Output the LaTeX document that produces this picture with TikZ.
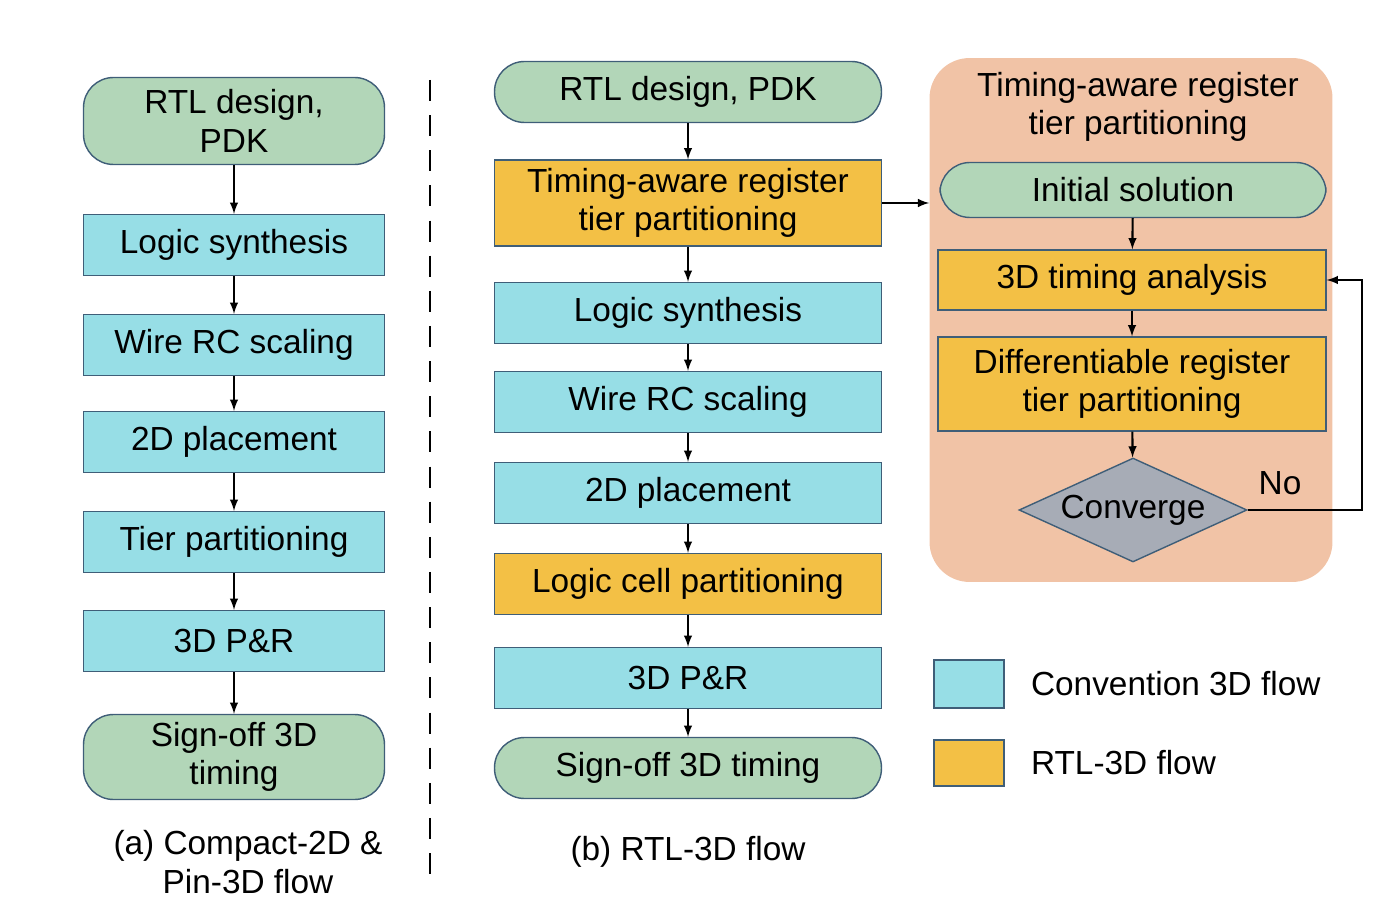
\documentclass[tikz,border=0pt]{standalone}
\usepackage{fontspec}
\setmainfont{Liberation Sans}
\usetikzlibrary{shapes.geometric, arrows, positioning, fit, backgrounds}
\definecolor{MyGreen}{HTML}{B2D6B8}
\definecolor{MyCyan}{HTML}{97DEE6}
\definecolor{MyOrange}{HTML}{F3C045}
\definecolor{MyPeach}{HTML}{F1C3A6}
\definecolor{MyGray}{HTML}{A7ACB6}
\definecolor{MyBorder}{HTML}{3F5E78}

\begin{document}
\begin{tikzpicture}[x=0.02cm,y=-0.02cm,
			every node/.style={font=\fontsize{19}{22}\selectfont, align=center, inner sep=0pt},
			stepbox/.style={draw=MyBorder,thick,rectangle,fill=MyCyan,minimum height=1.22cm},
			newbox/.style={stepbox,fill=MyOrange},
			endbox/.style={stepbox,fill=MyGreen,rounded corners=0.6cm},
			arr/.style={-latex,very thick}
		]
			\useasboundingbox (0,0) rectangle (1400,915);
			% (a) left flow
			\node (aRtl) [endbox,minimum width=6.02cm,minimum height=1.74cm] at (234,121) {RTL design,\\PDK};
			\node (aSyn) [stepbox,minimum width=6.02cm] at (234,245) {Logic synthesis};
			\node (aWire) [stepbox,minimum width=6.02cm] at (234,345) {Wire RC scaling};
			\node (aPl) [stepbox,minimum width=6.02cm] at (234,442) {2D placement};
			\node (aTier) [stepbox,minimum width=6.02cm] at (234,542) {Tier partitioning};
			\node (aPR) [stepbox,minimum width=6.02cm] at (234,641) {3D P\&R};
			\node (aSign) [endbox,minimum width=6.02cm,minimum height=1.7cm] at (234,757) {Sign-off 3D\\timing};
			\node (aCap) at (248,862) {(a) Compact-2D \&\\Pin-3D flow};
			\foreach \u/\v in {aRtl/aSyn, aSyn/aWire, aWire/aPl, aPl/aTier, aTier/aPR, aPR/aSign}
				\draw [arr] (\u) -- (\v);
			\draw [dashed,very thick,dash pattern=on 12pt off 8pt] (430,80) -- (430,875);
			% (b) RTL-3D flow
			\node (bRtl) [endbox,minimum width=7.74cm] at (688,92) {RTL design, PDK};
			\node (bTim) [newbox,minimum width=7.74cm,minimum height=1.72cm] at (688,203) {Timing-aware register\\tier partitioning};
			\node (bSyn) [stepbox,minimum width=7.74cm] at (688,313) {Logic synthesis};
			\node (bWire) [stepbox,minimum width=7.74cm] at (688,402) {Wire RC scaling};
			\node (bPl) [stepbox,minimum width=7.74cm] at (688,493) {2D placement};
			\node (bCell) [newbox,minimum width=7.74cm] at (688,584) {Logic cell partitioning};
			\node (bPR) [stepbox,minimum width=7.74cm] at (688,678) {3D P\&R};
			\node (bSign) [endbox,minimum width=7.74cm] at (688,768) {Sign-off 3D timing};
			\node (bCap) at (688,852) {(b) RTL-3D flow};
			\foreach \u/\v in {bRtl/bTim, bTim/bSyn, bSyn/bWire, bWire/bPl, bPl/bCell, bCell/bPR, bPR/bSign}
				\draw [arr] (\u) -- (\v);
			% partitioning detail
			\node (pTitle) at (1138,107) {Timing-aware register\\tier partitioning};
			\node (pInit) [endbox,minimum width=7.72cm,minimum height=1.1cm] at (1133,190) {Initial solution};
			\node (pTime) [newbox,minimum width=7.76cm,minimum height=1.2cm] at (1132,280) {3D timing analysis};
			\node (pDiff) [newbox,minimum width=7.76cm,minimum height=1.88cm] at (1132,384) {Differentiable register\\tier partitioning};
			\node (pConv) [diamond,draw=MyBorder,thick,fill=MyGray,minimum width=4.56cm,minimum height=2.08cm,aspect=2.2] at (1133,510) {Converge};
			\node (pNo) at (1280,483) {No};
			\coordinate (pLoop) at (1362,510);
			\begin{scope}[on background layer]
				\node (envPart) [rectangle,rounded corners=0.8cm,fill=MyPeach,minimum width=8.06cm,minimum height=10.48cm] at (1131,320) {};
			\end{scope}
			\draw [arr] (pInit) -- (pTime);
			\draw [arr] (pTime) -- (pDiff);
			\draw [arr] (pDiff) -- (pConv);
			\draw [arr] (pConv.east) -- (pLoop) |- (pTime.east);
			\draw [arr] (bTim.east) -- (envPart.west |- bTim.east);
			% legend
			\node (legCyan) [stepbox,minimum width=1.4cm,minimum height=0.96cm] at (969,684) {};
			\node (legOrange) [newbox,minimum width=1.4cm,minimum height=0.92cm] at (969,763) {};
			\node (legCyanTxt) [right=0.52cm of legCyan] {Convention 3D flow};
			\node (legOrangeTxt) [right=0.52cm of legOrange] {RTL-3D flow};
		\end{tikzpicture}
\end{document}
